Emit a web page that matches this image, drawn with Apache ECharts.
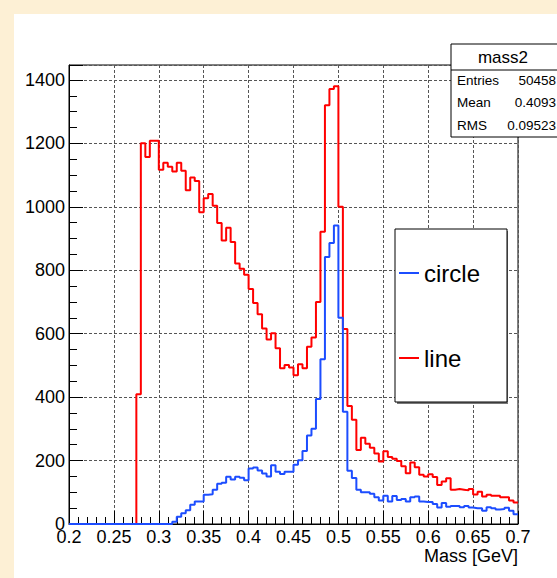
<!DOCTYPE html>
<html>
<head>
<meta charset="utf-8">
<script src="https://cdn.jsdelivr.net/npm/echarts@6/dist/echarts.min.js"></script>
<style>
html, body { margin: 0; padding: 0; background: #fdf0d5; }
#main { position: absolute; left: 14px; top: 14px; width: 543px; height: 564px; background: #fff; }
</style>
</head>
<body>
<div id="main"></div>
<script>
// histogram binning: 100 bins of 0.005 GeV from 0.2 to 0.7
var binLow = 0.2;
var binWidth = 0.005;

// "line" (red) bin contents
var lineCounts = [
  0, 0, 0, 0, 0, 0, 0, 0, 0, 0,
  0, 0, 0, 0, 0, 409, 1200, 1157, 1208, 1208,
  1117, 1139, 1126, 1111, 1139, 1114, 1052, 1092, 1081, 983,
  1027, 1040, 1003, 949, 894, 934, 889, 821, 805, 786,
  741, 697, 661, 616, 582, 601, 554, 491, 501, 493,
  469, 504, 491, 559, 588, 700, 921, 1320, 1371, 1380,
  1000, 615, 372, 329, 233, 272, 253, 240, 222, 197,
  229, 211, 206, 199, 182, 160, 194, 179, 155, 150,
  157, 148, 123, 134, 144, 108, 110, 108, 106, 110,
  93, 102, 87, 92, 89, 89, 84, 84, 74, 68
];

// "circle" (blue) bin contents
var circleCounts = [
  0, 0, 0, 0, 0, 0, 0, 0, 0, 0,
  0, 0, 0, 0, 0, 0, 0, 0, 0, 0,
  0, 0, 0, 7, 23, 34, 43, 61, 71, 71,
  92, 94, 108, 127, 130, 149, 140, 149, 146, 138,
  175, 178, 169, 159, 150, 185, 165, 158, 165, 165,
  187, 201, 230, 279, 300, 394, 519, 842, 886, 941,
  650, 354, 168, 145, 108, 100, 100, 95, 84, 74,
  89, 71, 88, 76, 79, 71, 84, 87, 71, 69,
  69, 63, 52, 66, 54, 57, 57, 53, 57, 52,
  50, 50, 42, 53, 50, 46, 47, 51, 42, 31
];

var statsTitle = 'mass2';
var statsNames = ['Entries', 'Mean', 'RMS'];
var statsValues = ['50458', '0.4093', '0.09523'];

// points at left bin edges, plus the closing right edge
function toSteps(counts) {
  var pts = counts.map(function (c, i) { return [binLow + i * binWidth, c]; });
  pts.push([binLow + counts.length * binWidth, counts[counts.length - 1]]);
  return pts;
}

var font = 'Liberation Sans';
var chart = echarts.init(document.getElementById('main'), null, { renderer: 'svg' });

var statsGraphic = [
  // legend drop shadow (legend itself is drawn on top)
  { type: 'rect', z: 1, shape: { x: 383, y: 217, width: 111, height: 173 },
    style: { fill: '#777' } },
  { type: 'rect', z: 10, shape: { x: 437, y: 30, width: 130, height: 93 },
    style: { fill: '#fff', stroke: '#000', lineWidth: 1 } },
  { type: 'line', z: 10, shape: { x1: 437, y1: 56, x2: 543, y2: 56 },
    style: { stroke: '#000', lineWidth: 1 } },
  { type: 'text', z: 11, style: { text: statsTitle, x: 489, y: 43, textAlign: 'center',
    textVerticalAlign: 'middle', font: '17px ' + font, fill: '#000' } }
];
statsNames.forEach(function (n, i) {
  var y = 66 + i * 22.8;
  statsGraphic.push({ type: 'text', z: 11, style: { text: n, x: 443, y: y, textAlign: 'left',
    textVerticalAlign: 'middle', font: '13.5px ' + font, lineHeight: 14, fill: '#000' } });
  statsGraphic.push({ type: 'text', z: 11, style: { text: statsValues[i], x: 542, y: y, textAlign: 'right',
    textVerticalAlign: 'middle', font: '13.5px ' + font, lineHeight: 14, fill: '#000' } });
});
statsGraphic.push({ type: 'text', z: 11, style: { text: 'Mass [GeV]', x: 504, y: 542, textAlign: 'right',
  textVerticalAlign: 'middle', font: '18px ' + font, lineHeight: 14, fill: '#000' } });

var gridLine = { color: '#555', width: 1, type: [3, 2] };

var option = {
  animation: false,
  textStyle: { fontFamily: font },
  grid: { left: 55, top: 51, width: 449, height: 459, show: true, borderColor: '#000', borderWidth: 1 },
  xAxis: {
    type: 'value', min: 0.2, max: 0.7, interval: 0.05,
    axisLine: { lineStyle: { color: '#000', width: 1 } },
    axisTick: { inside: true, length: 13, lineStyle: { color: '#000' } },
    minorTick: { show: true, splitNumber: 5, length: 7, lineStyle: { color: '#000' } },
    axisLabel: { color: '#000', fontSize: 18, lineHeight: 16, margin: 5,
      formatter: function (v) { return String(+v.toFixed(2)); } },
    splitLine: { show: true, lineStyle: gridLine }
  },
  yAxis: {
    type: 'value', min: 0, max: 1447, interval: 200,
    axisLine: { show: true, lineStyle: { color: '#000', width: 1 } },
    axisTick: { show: true, inside: true, length: 14, lineStyle: { color: '#000' } },
    minorTick: { show: true, splitNumber: 4, length: 8, lineStyle: { color: '#000' } },
    axisLabel: { color: '#000', fontSize: 18, lineHeight: 10, margin: 4, showMaxLabel: false,
      formatter: function (v) { return v % 200 === 0 ? String(v) : ''; } },
    splitLine: { show: true, lineStyle: gridLine }
  },
  legend: {
    data: ['circle', 'line'],
    orient: 'vertical', left: 381, top: 215,
    icon: 'rect', itemWidth: 20, itemHeight: 2, itemGap: 61,
    padding: [32, 27, 32, 4],
    backgroundColor: '#fff', borderColor: '#000', borderWidth: 1,
    selectedMode: false,
    textStyle: { fontFamily: font, fontSize: 24, color: '#000' }
  },
  graphic: statsGraphic,
  series: [
    { name: 'line', type: 'line', step: 'end', symbol: 'none', data: toSteps(lineCounts),
      lineStyle: { color: '#ff0000', width: 2 }, itemStyle: { color: '#ff0000' } },
    { name: 'circle', type: 'line', step: 'end', symbol: 'none', data: toSteps(circleCounts),
      lineStyle: { color: '#1c4dff', width: 2 }, itemStyle: { color: '#1c4dff' } }
  ]
};
chart.setOption(option);
</script>
</body>
</html>
